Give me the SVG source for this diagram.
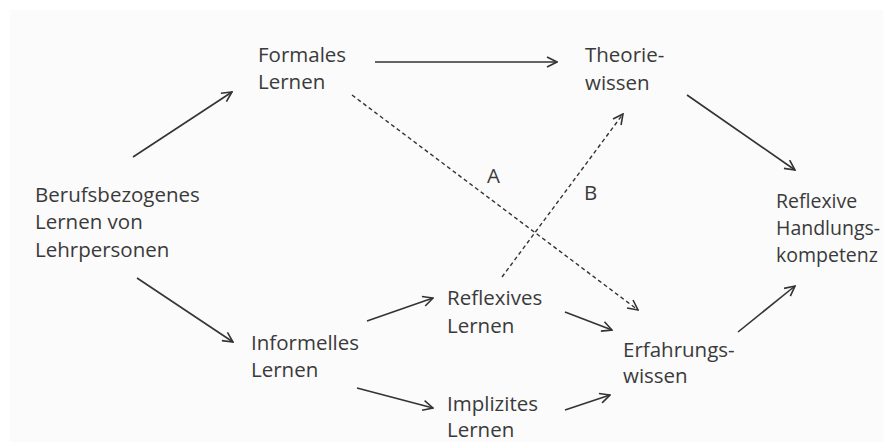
<svg xmlns="http://www.w3.org/2000/svg" width="883" height="442" viewBox="0 0 883 442">
<defs>
<marker id="arr" viewBox="0 0 12 12" refX="11" refY="6" markerWidth="12" markerHeight="12" markerUnits="userSpaceOnUse" orient="auto">
<path d="M1,1 L11,6 L1,11" fill="none" stroke="#333" stroke-width="1.6"/>
</marker>
</defs>
<style>
text{font-family:"Open Sans","Liberation Sans",sans-serif;font-size:20.5px;fill:#3a3a3a}
.s text{font-size:19.5px}
.c{stroke:#333;stroke-width:1.6;fill:none;marker-end:url(#arr)}
.d{stroke-dasharray:4 3;stroke-width:1.4}
</style>
<rect width="883" height="442" fill="#ffffff"/>
<rect x="10" y="10" width="873" height="432" fill="#fbfbfb"/>
<g id="connectors">
<line class="c" x1="133" y1="157" x2="232" y2="92"/>
<line class="c" x1="137" y1="278" x2="233" y2="342"/>
<line class="c" x1="375" y1="62" x2="557" y2="62"/>
<line class="c" x1="687" y1="95" x2="795" y2="170"/>
<line class="c" x1="367" y1="321" x2="433" y2="298"/>
<line class="c" x1="357" y1="388" x2="433" y2="408"/>
<line class="c" x1="565" y1="312" x2="612" y2="330"/>
<line class="c" x1="565" y1="410" x2="610" y2="395"/>
<line class="c" x1="738" y1="332" x2="795" y2="286"/>
<line class="c d" x1="352" y1="95" x2="638" y2="310"/>
<line class="c d" x1="502" y1="277" x2="623" y2="114"/>
<text x="487" y="183">A</text>
<text x="584" y="200">B</text>
</g>
<g id="berufsbezogenes"><text x="35" y="202">Berufsbezogenes</text><text x="35" y="229">Lernen von</text><text x="35" y="257">Lehrpersonen</text></g>
<g id="formales"><text x="258" y="62">Formales</text><text x="258" y="89">Lernen</text></g>
<g id="theorie"><text x="585" y="62">Theorie-</text><text x="585" y="90">wissen</text></g>
<g id="reflexive-kompetenz" class="s"><text x="776" y="208">Reflexive</text><text x="776" y="235">Handlungs-</text><text x="776" y="262">kompetenz</text></g>
<g id="informelles"><text x="251" y="350">Informelles</text><text x="251" y="377">Lernen</text></g>
<g id="reflexives"><text x="447" y="305">Reflexives</text><text x="447" y="333">Lernen</text></g>
<g id="implizites"><text x="447" y="411">Implizites</text><text x="447" y="437">Lernen</text></g>
<g id="erfahrung"><text x="623" y="357">Erfahrungs-</text><text x="623" y="383">wissen</text></g>
</svg>
